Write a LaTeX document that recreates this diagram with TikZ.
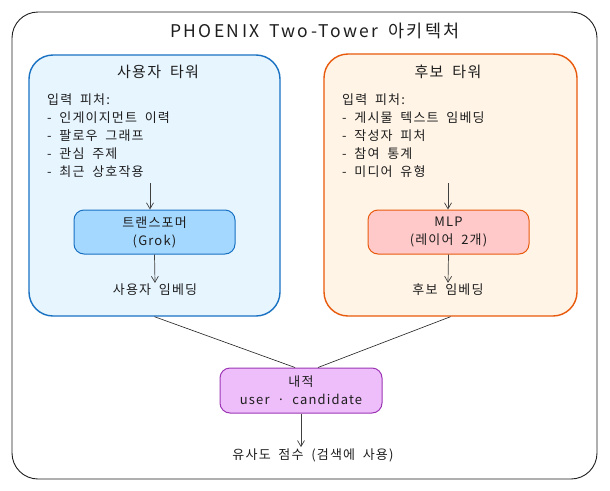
\documentclass[tikz,border=0pt]{standalone}
\usepackage{fontspec}
\setmainfont{Noto Sans CJK KR}
\newfontfamily\sketchfont[LetterSpace=9, WordSpace=1.9]{Noto Sans CJK KR}
\newfontfamily\titlefont[LetterSpace=14, WordSpace=1.5]{Noto Sans CJK KR}
\usepackage{tikz}
\usetikzlibrary{positioning, arrows.meta}

\definecolor{ink}{HTML}{1E1E1E}
\definecolor{userfill}{HTML}{E7F5FF}
\definecolor{userline}{HTML}{1971C2}
\definecolor{tffill}{HTML}{A5D8FF}
\definecolor{candfill}{HTML}{FFF4E6}
\definecolor{candline}{HTML}{E8590C}
\definecolor{mlpfill}{HTML}{FFC9C9}
\definecolor{dotfill}{HTML}{EEBEFA}
\definecolor{dotline}{HTML}{9C36B5}

\tikzset{
  tower/.style={draw, line width=1.4pt, rounded corners=24pt, minimum width=251pt, minimum height=261pt},
  block/.style={draw, line width=1pt, rounded corners=10pt, minimum width=161pt, minimum height=44pt, align=center, font=\sketchfont\fontsize{13}{18}\selectfont, text=ink},
  label/.style={text=ink, font=\sketchfont\fontsize{13}{18}\selectfont, inner sep=1pt},
  towertitle/.style={text=ink, font=\sketchfont\fontsize{15}{18}\selectfont},
  arrow/.style={draw=ink!85, line width=0.7pt, -{Straight Barb[length=6pt, width=7pt]}},
  link/.style={draw=ink, line width=0.6pt}
}

\begin{document}
\begin{tikzpicture}[x=1pt, y=-1pt]
\useasboundingbox (0,0) rectangle (610,490);

% Frame and title
\draw[ink, line width=0.9pt, fill=white, rounded corners=26pt] (12,12) rectangle (597,479);
\node[text=ink, font=\titlefont\fontsize{17.5}{20}\selectfont] (title) at (315,31) {PHOENIX Two-Tower 아키텍처};

% User tower
\node[tower, draw=userline, fill=userfill] (user) at (154.5,185.5) {};
\node[towertitle] (usertitle) at (158,72) {사용자 타워};
\node[label, anchor=west, align=left] (userfeat) at (46,136)
  {입력 피처:\\- 인게이지먼트 이력\\- 팔로우 그래프\\- 관심 주제\\- 최근 상호작용};
\node[block, draw=userline, fill=tffill] (tf) at (154.5,232) {트랜스포머\\(Grok)};
\node[label] (uemb) at (155,290) {사용자 임베딩};
\coordinate (uin) at (150,183);
\draw[arrow] (uin) -- (uin |- tf.north);
\draw[arrow] (tf.south) -- (uemb.north);

% Candidate tower
\node[tower, draw=candline, fill=candfill, minimum width=253pt, minimum height=262pt] (cand) at (450.5,185) {};
\node[towertitle] (candtitle) at (448,72) {후보 타워};
\node[label, anchor=west, align=left] (candfeat) at (341,136)
  {입력 피처:\\- 게시물 텍스트 임베딩\\- 작성자 피처\\- 참여 통계\\- 미디어 유형};
\node[block, draw=candline, fill=mlpfill] (mlp) at (448.5,232) {MLP\\(레이어 2개)};
\node[label] (cemb) at (448,290) {후보 임베딩};
\coordinate (cin) at (448,183);
\draw[arrow] (cin) -- (cin |- mlp.north);
\draw[arrow] (mlp.south) -- (cemb.north);

% Dot product
\node[block, draw=dotline, fill=dotfill, minimum width=162pt, minimum height=45pt] (dot) at (301,390.5) {내적\\user · candidate};
\draw[link] (user.south) -- ([xshift=-6pt]dot.north);
\draw[link] (cand.south) -- ([xshift=17pt]dot.north);

% Score
\node[label] (score) at (313,455) {유사도 점수 (검색에 사용)};
\draw[arrow] (dot.south) -- (dot.south |- score.north);

\end{tikzpicture}
\end{document}
